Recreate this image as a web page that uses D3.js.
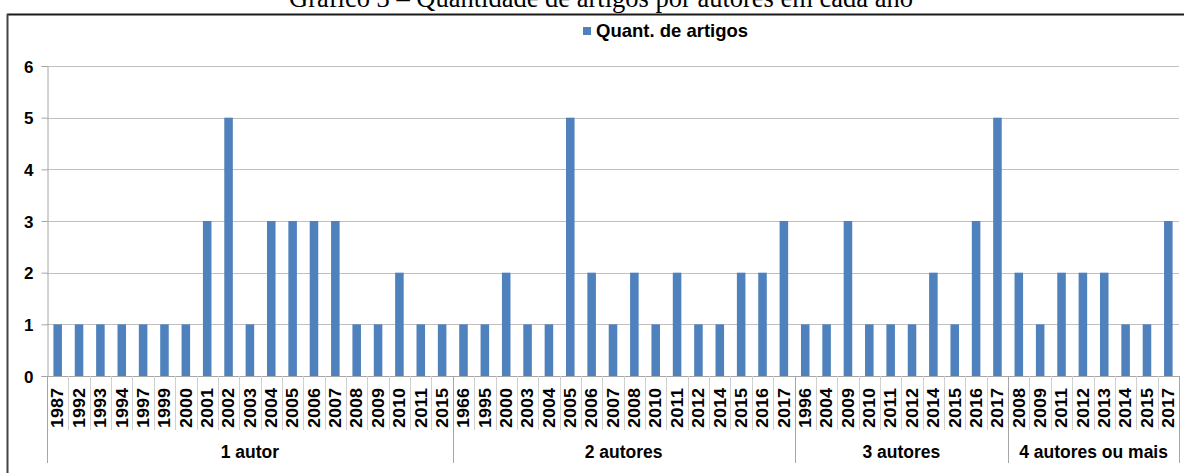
<!DOCTYPE html>
<html><head><meta charset="utf-8">
<script src="https://cdn.jsdelivr.net/npm/d3@7"></script>
<style>body{margin:0;background:#fff}svg{display:block}</style>
</head><body>
<svg id="c" width="1184" height="473"></svg>
<script>
const title = "Gráfico 3 – Quantidade de artigos por autores em cada ano";
const seriesName = "Quant. de artigos";
const groups = ["1 autor", "2 autores", "3 autores", "4 autores ou mais"];
const years1 = ["1987","1992","1993","1994","1997","1999","2000","2001","2002","2003","2004","2005","2006","2007","2008","2009","2010","2011","2015"];
const vals1  = [1,1,1,1,1,1,1,3,5,1,3,3,3,3,1,1,2,1,1];
const years2 = ["1966","1995","2000","2003","2004","2005","2006","2007","2008","2010","2011","2012","2014","2015","2016","2017"];
const vals2  = [1,1,2,1,1,5,2,1,2,1,2,1,1,2,2,3];
const years3 = ["1996","2004","2009","2010","2011","2012","2014","2015","2016","2017"];
const vals3  = [1,1,3,1,1,1,2,1,3,5];
const years4 = ["2008","2009","2011","2012","2013","2014","2015","2017"];
const vals4  = [2,1,2,2,2,1,1,3];
const yTicks = [0,1,2,3,4,5,6];

(function () {
const yearsByGroup = [years1, years2, years3, years4];
const valsByGroup = [vals1, vals2, vals3, vals4];
const data = [];
groups.forEach((g, gi) => yearsByGroup[gi].forEach((yr, i) => data.push({group: g, year: yr, value: valsByGroup[gi][i], key: g + "|" + yr})));

const svg = d3.select("#c");
const pL = 47, pR = 1179, pT = 66, pB = 376;
const x = d3.scaleBand().domain(data.map(d => d.key)).range([pL, pR]).paddingInner(0.6).paddingOuter(0.3);
const xb = d3.scaleBand().domain(data.map(d => d.key)).range([pL, pR]);
const y = d3.scaleLinear().domain([0, 6]).range([pB, pT]);

// title (cut off at top, as in the reference)
svg.append("text").attr("x", 601).attr("y", 7).attr("text-anchor", "middle")
  .attr("font-family", "Liberation Serif, Times New Roman, serif").attr("font-size", 26.5).attr("fill", "#000").text(title);

// frame
svg.append("line").attr("x1", 7).attr("x2", 1184).attr("y1", 14.5).attr("y2", 14.5).attr("stroke", "#1a1a1a").attr("stroke-width", 2);
svg.append("line").attr("x1", 7.5).attr("x2", 7.5).attr("y1", 14).attr("y2", 473).attr("stroke", "#444").attr("stroke-width", 2);

// gridlines
svg.append("g").selectAll("line").data(yTicks.filter(t => t > 0)).join("line")
  .attr("x1", pL).attr("x2", pR).attr("y1", d => Math.round(y(d)) + 0.5).attr("y2", d => Math.round(y(d)) + 0.5)
  .attr("stroke", "#c0c0c0").attr("stroke-width", 1);

// y axis
const yAxis = svg.append("g").attr("transform", `translate(${pL + 0.5},0)`)
  .call(d3.axisLeft(y).tickValues(yTicks).tickSize(6).tickPadding(0).tickFormat(d3.format("d")));
yAxis.select(".domain").attr("stroke", "#a6a6a6");
yAxis.selectAll(".tick line").attr("stroke", "#a6a6a6");
yAxis.selectAll(".tick text").attr("font-family", "Liberation Sans, Arial, sans-serif").attr("font-weight", "bold")
  .attr("font-size", 17).attr("fill", "#000").attr("text-anchor", "end").attr("x", -14).attr("dy", "0.36em");

// bars
svg.append("g").selectAll("rect").data(data).join("rect")
  .attr("x", d => x(d.key)).attr("width", x.bandwidth())
  .attr("y", d => y(d.value)).attr("height", d => y(0) - y(d.value))
  .attr("fill", "#4f81bd");

// x axis line
svg.append("line").attr("x1", pL).attr("x2", pR).attr("y1", pB + 0.5).attr("y2", pB + 0.5).attr("stroke", "#a6a6a6");

// category separators
const starts = new Set();
let idx = 0;
yearsByGroup.forEach(a => { starts.add(idx); idx += a.length; });
const sepData = data.map((d, i) => ({pos: xb(d.key), group: starts.has(i)}));
sepData.push({pos: pR, group: true});
svg.append("g").selectAll("line").data(sepData).join("line")
  .attr("x1", d => Math.round(d.pos) + 0.5).attr("x2", d => Math.round(d.pos) + 0.5)
  .attr("y1", pB).attr("y2", d => d.group ? 463 : 430)
  .attr("stroke", d => d.group ? "#a6a6a6" : "#d0d0d0");

// year labels
svg.append("g").selectAll("text").data(data).join("text")
  .attr("transform", d => `translate(${xb(d.key) + xb.bandwidth() / 2},428) rotate(-90)`)
  .attr("dy", "0.36em")
  .attr("font-family", "Liberation Sans, Arial, sans-serif").attr("font-weight", "bold").attr("font-size", 16)
  .attr("textLength", 40).attr("lengthAdjust", "spacingAndGlyphs")
  .attr("fill", "#000").text(d => d.year);

// group labels
svg.append("g").selectAll("text").data(groups).join("text")
  .attr("x", (g, gi) => {
    const ys = yearsByGroup[gi];
    const a = xb(g + "|" + ys[0]), b = xb(g + "|" + ys[ys.length - 1]) + xb.bandwidth();
    return (a + b) / 2;
  })
  .attr("y", 458).attr("text-anchor", "middle")
  .attr("font-family", "Liberation Sans, Arial, sans-serif").attr("font-weight", "bold").attr("font-size", 17.5)
  .attr("fill", "#000").text(d => d);

// legend
svg.append("rect").attr("x", 583).attr("y", 27).attr("width", 8).attr("height", 8).attr("fill", "#4f81bd");
svg.append("text").attr("x", 596).attr("y", 37).attr("font-family", "Liberation Sans, Arial, sans-serif")
  .attr("font-weight", "bold").attr("font-size", 18.5).attr("fill", "#000").text(seriesName);
})();
</script>
</body></html>
